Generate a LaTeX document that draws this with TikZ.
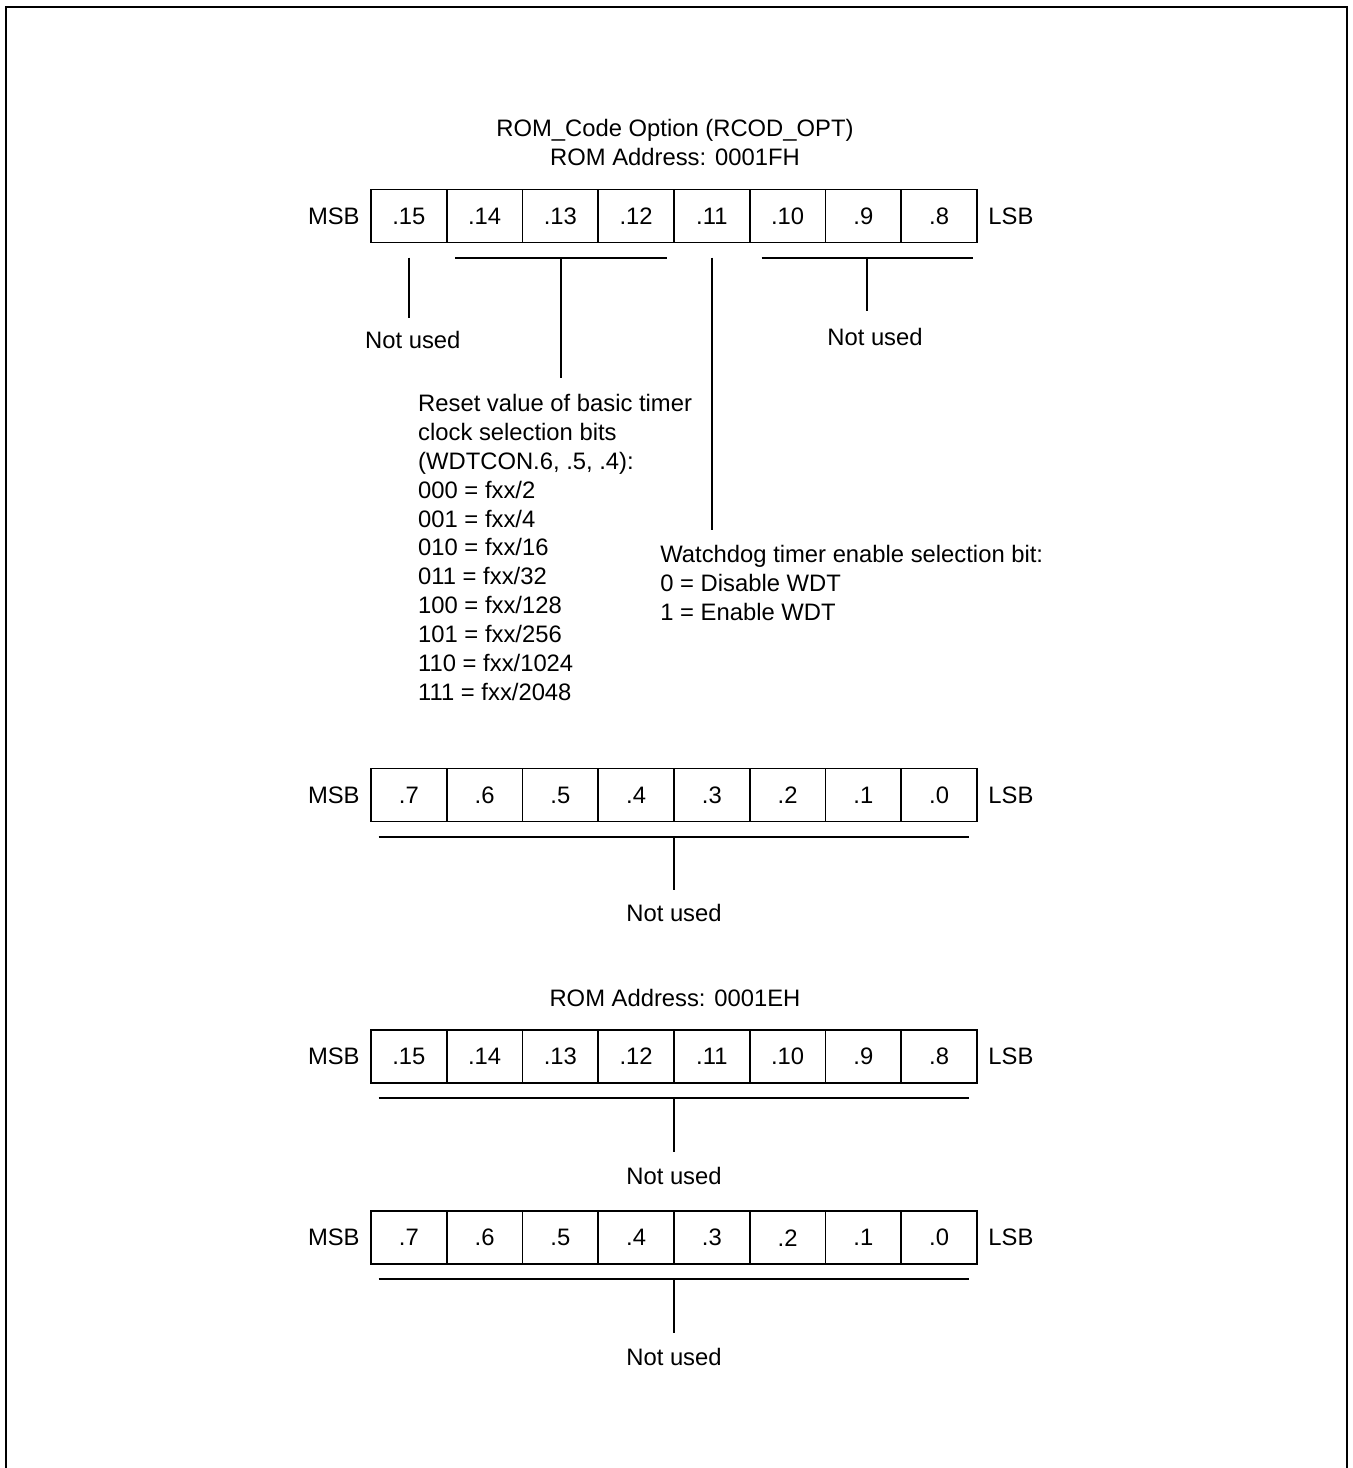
\documentclass[tikz,border=0pt]{standalone}
\usepackage{fontspec}
\setmainfont{Liberation Sans}
\begin{document}
\begin{tikzpicture}[x=0.5pt,y=-0.5pt,
  every node/.style={font=\fontsize{11.9}{14}\selectfont, inner sep=0pt},
  cell/.style={draw, line width=0.85pt, minimum width=37.875pt, minimum height=26.5pt, inner sep=0pt},
  rule/.style={line width=0.85pt},
  lbl/.style={anchor=base},
  txt/.style={anchor=base west}]
\useasboundingbox (0,0) rectangle (1353,1468);
\draw[line width=1pt] (6,1490) -- (6,6.7) -- (1346.7,6.7) -- (1346.7,1490);

% ---------- titles
\node[lbl] (t1) at (675,136.7) {ROM\_Code Option (RCOD\_OPT)};
\node[lbl] (t2) at (675,165) {ROM Address: 0001FH};

% ---------- row 1
\foreach \lab [count=\i] in {.15,.14,.13,.12,.11,.10,.9,.8}
  \node[cell] (a\i) at ({408.9+75.75*(\i-1)},216) {\lab};
\node[anchor=east] (amsb) at (360,216) {MSB};
\node[anchor=west] (alsb) at (988,216) {LSB};

\coordinate (p15t) at (409,257.7);
\coordinate (p15b) at (409,318);
\draw[rule] (p15t) -- (p15b);
\node[lbl] (nu1) at (412.8,348.3) {Not used};

\coordinate (g1l) at (455,257.7);
\coordinate (g1r) at (666.7,257.7);
\coordinate (g1m) at (560.8,257.7);
\coordinate (g1b) at (560.8,378);
\draw[rule] (g1l) -- (g1r);
\draw[rule] (g1m) -- (g1b);

\coordinate (p11t) at (712,257.7);
\coordinate (p11b) at (712,530);
\draw[rule] (p11t) -- (p11b);

\coordinate (g2l) at (761.6,257.7);
\coordinate (g2r) at (973,257.7);
\coordinate (g2m) at (867,257.7);
\coordinate (g2b) at (867,311);
\draw[rule] (g2l) -- (g2r);
\draw[rule] (g2m) -- (g2b);
\node[lbl] (nu2) at (875,345) {Not used};

\foreach \line [count=\k] in {Reset value of basic timer,clock selection bits,{(WDTCON.6, .5, .4):},000 = fxx/2,001 = fxx/4,010 = fxx/16,011 = fxx/32,100 = fxx/128,101 = fxx/256,110 = fxx/1024,111 = fxx/2048}
  \node[txt] (r\k) at (417.8,{411.7+28.83*(\k-1)}) {\line};

\node[txt] (w1) at (660,562.7) {Watchdog timer enable selection bit:};
\node[txt] (w2) at (660,591.35) {0 = Disable WDT};
\node[txt] (w3) at (660,620) {1 = Enable WDT};

% ---------- row 2
\foreach \lab [count=\i] in {.7,.6,.5,.4,.3,.2,.1,.0}
  \node[cell] (b\i) at ({408.9+75.75*(\i-1)},795) {\lab};
\node[anchor=east] (bmsb) at (360,795) {MSB};
\node[anchor=west] (blsb) at (988,795) {LSB};
\coordinate (h2l) at (378.7,836.7);
\coordinate (h2r) at (969.3,836.7);
\coordinate (h2m) at (674,836.7);
\coordinate (h2b) at (674,890);
\draw[rule] (h2l) -- (h2r);
\draw[rule] (h2m) -- (h2b);
\node[lbl] (nu3) at (674,921.7) {Not used};

% ---------- row 3
\node[lbl] (t3) at (675,1006) {ROM Address: 0001EH};
\foreach \lab [count=\i] in {.15,.14,.13,.12,.11,.10,.9,.8}
  \node[cell] (c\i) at ({408.9+75.75*(\i-1)},1056.3) {\lab};
\node[anchor=east] (cmsb) at (360,1056.3) {MSB};
\node[anchor=west] (clsb) at (988,1056.3) {LSB};
\coordinate (h3l) at (378.7,1098);
\coordinate (h3r) at (969.3,1098);
\coordinate (h3m) at (674,1098);
\coordinate (h3b) at (674,1151.7);
\draw[rule] (h3l) -- (h3r);
\draw[rule] (h3m) -- (h3b);
\node[lbl] (nu4) at (674,1184) {Not used};

% ---------- row 4
\foreach \lab [count=\i] in {.7,.6,.5,.4,.3,.2,.1,.0}
  \node[cell] (d\i) at ({408.9+75.75*(\i-1)},1237.7) {\lab};
\node[anchor=east] (dmsb) at (360,1237.7) {MSB};
\node[anchor=west] (dlsb) at (988,1237.7) {LSB};
\coordinate (h4l) at (378.7,1279.3);
\coordinate (h4r) at (969.3,1279.3);
\coordinate (h4m) at (674,1279.3);
\coordinate (h4b) at (674,1332.7);
\draw[rule] (h4l) -- (h4r);
\draw[rule] (h4m) -- (h4b);
\node[lbl] (nu5) at (674,1365) {Not used};
\end{tikzpicture}
\end{document}
